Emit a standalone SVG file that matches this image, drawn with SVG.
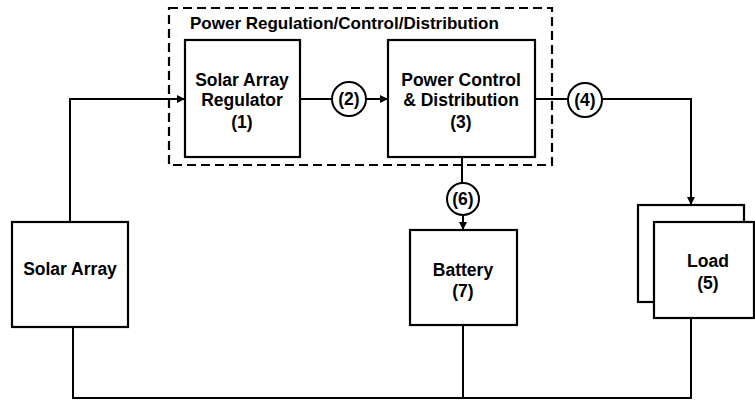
<svg xmlns="http://www.w3.org/2000/svg" width="755" height="401" viewBox="0 0 755 401">
<defs>
<style>
.box{fill:#fff;stroke:#000;stroke-width:2.2}
.ln{fill:none;stroke:#000;stroke-width:2}
.dash{fill:none;stroke:#000;stroke-width:2.2;stroke-dasharray:9 5}
.circ{fill:#fff;stroke:#000;stroke-width:2}
text{font-family:"Liberation Sans",Arial,sans-serif;font-weight:bold;font-size:17.5px;fill:#000;text-anchor:middle}
.title{text-anchor:start;font-size:17px}
</style>
<marker id="arr" viewBox="0 0 10 10" refX="10" refY="5" markerWidth="8" markerHeight="8" markerUnits="userSpaceOnUse" orient="auto">
<path d="M0,0 L10,5 L0,10 z" fill="#000"/>
</marker>
</defs>
<rect width="755" height="401" fill="#fff"/>
<g id="group-prcd">
<rect class="dash" x="169" y="8" width="383" height="157"/>
<text class="title" x="190" y="29">Power Regulation/Control/Distribution</text>
</g>
<g id="connectors">
<path class="ln" d="M70,222 V99 H185" marker-end="url(#arr)"/>
<path class="ln" d="M300,99 H332"/>
<path class="ln" d="M366,99 H388" marker-end="url(#arr)"/>
<path class="ln" d="M535,99 H568"/>
<path class="ln" d="M602,99 H691 V205" marker-end="url(#arr)"/>
<path class="ln" d="M462,157 V183"/>
<path class="ln" d="M463,215 V230" marker-end="url(#arr)"/>
<path class="ln" d="M73,327 V398 H691 V318"/>
<path class="ln" d="M463,325 V398"/>
</g>
<g id="solar-array-regulator">
<rect class="box" x="185" y="40" width="115" height="117"/>
<text x="242" y="86">Solar Array</text>
<text x="242" y="106">Regulator</text>
<text x="242" y="128">(1)</text>
</g>
<g id="power-control">
<rect class="box" x="388" y="40" width="147" height="117"/>
<text x="461" y="86">Power Control</text>
<text x="461" y="106">&amp; Distribution</text>
<text x="461" y="128">(3)</text>
</g>
<g id="solar-array">
<rect class="box" x="12" y="222" width="116" height="105"/>
<text x="70" y="275">Solar Array</text>
</g>
<g id="battery">
<rect class="box" x="410" y="230" width="107" height="95"/>
<text x="463" y="276">Battery</text>
<text x="463" y="297">(7)</text>
</g>
<g id="load">
<rect class="box" x="638" y="205" width="106" height="97"/>
<rect class="box" x="654" y="222" width="100" height="96"/>
<text x="708" y="267">Load</text>
<text x="708" y="289">(5)</text>
</g>
<g id="label-2">
<circle class="circ" cx="349" cy="99" r="17"/>
<text x="349" y="105">(2)</text>
</g>
<g id="label-4">
<circle class="circ" cx="585" cy="100" r="17"/>
<text x="585" y="106">(4)</text>
</g>
<g id="label-6">
<circle class="circ" cx="463" cy="199" r="16"/>
<text x="463" y="205">(6)</text>
</g>
</svg>
